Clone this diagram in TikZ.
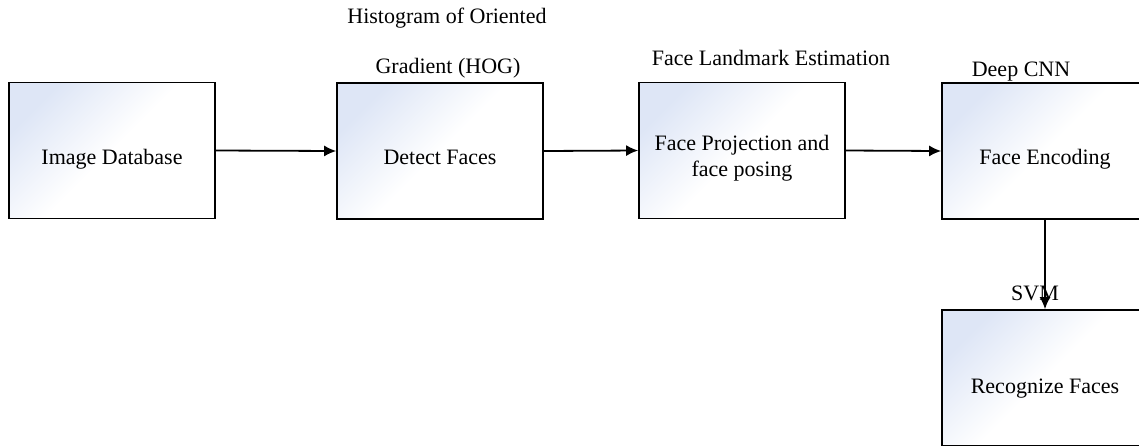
\documentclass[tikz,border=0pt]{standalone}
\usepackage{fontspec}
\setmainfont{Liberation Serif}
\usetikzlibrary{arrows.meta}
\definecolor{boxtint}{RGB}{222,230,246}
\tikzset{
  x=1pt, y=-1pt,
  stage/.style={draw=black, line width=1.6pt, minimum width=206pt, minimum height=136pt,
    inner sep=0pt, align=center, top color=boxtint, bottom color=white, middle color=white,
    shading angle=45, font=\fontsize{22}{26}\selectfont, text height=30pt, text depth=3pt},
  lbl/.style={font=\fontsize{22}{28}\selectfont, inner sep=0pt},
  flow/.style={line width=1.8pt, -{Latex[length=12pt,width=11pt]}}
}
\begin{document}
\begin{tikzpicture}
\useasboundingbox (0,0) rectangle (1139,445);
\clip (0,0) rectangle (1139,445);
\node[stage] (db) at (112,150.5) {Image Database};
\node[stage] (detect) at (440,151) {Detect Faces};
\node[stage, text height=54pt, text depth=3pt] (proj) at (742,150.5) {Face Projection and\\face posing};
\node[stage] (enc) at (1045,151) {Face Encoding};
\node[stage, text height=34pt] (rec) at (1045,378) {Recognize Faces};
\node[lbl] (hog1) at (447,18) {Histogram of Oriented};
\node[lbl] (hog2) at (448,68) {Gradient (HOG)};
\node[lbl] (lm) at (771,58) {Face Landmark Estimation};
\node[lbl] (cnn) at (1021,72) {Deep CNN};
\node[lbl] (svm) at (1035,293) {SVM};
\draw[flow] (db.east) -- (detect.west);
\draw[flow] (detect.east) -- (proj.west);
\draw[flow] (proj.east) -- (enc.west);
\draw[flow] (enc.south) -- (rec.north);
\end{tikzpicture}
\end{document}
